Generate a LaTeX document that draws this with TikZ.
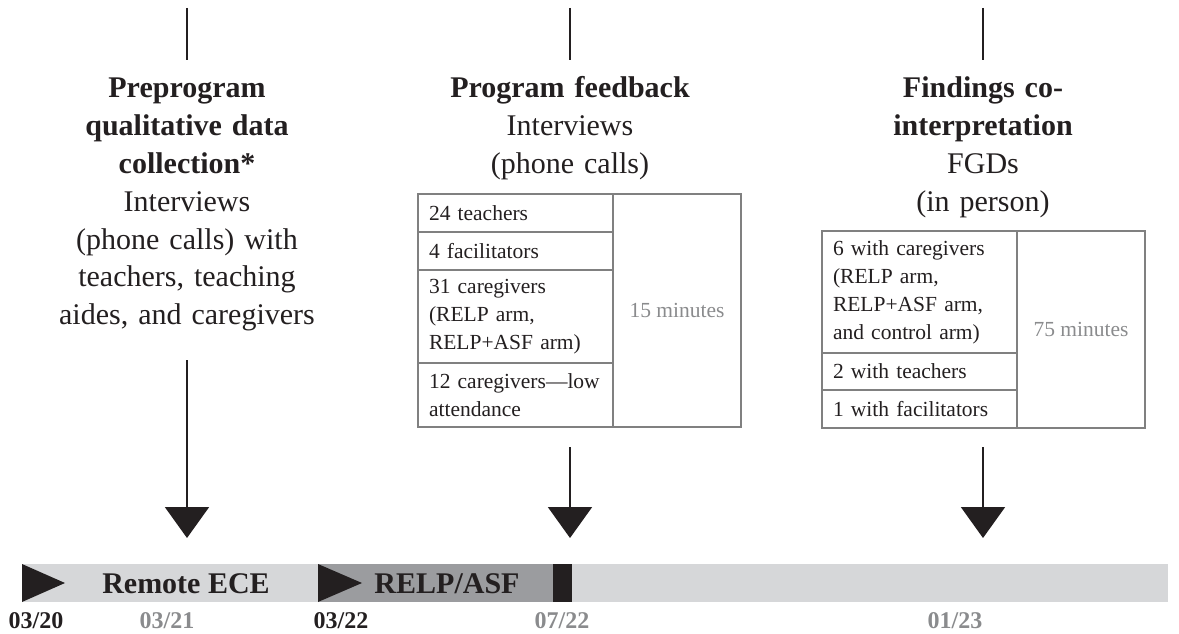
\documentclass[tikz,border=0pt]{standalone}
\usepackage{fontspec}
\setmainfont{Liberation Serif}
\usetikzlibrary{arrows.meta,positioning}
\definecolor{barlight}{HTML}{D6D7D9}
\definecolor{bardark}{HTML}{9B9C9F}
\definecolor{inkblack}{HTML}{231F20}
\definecolor{softgrey}{HTML}{8A8B8D}
\definecolor{cellline}{HTML}{808080}
\tikzset{
  headtext/.style={align=center, text width=270pt, inner sep=0pt, anchor=base,
    text=inkblack, font=\fontsize{30}{37.8}\selectfont},
  cellbox/.style={draw=cellline, line width=1.3pt, inner xsep=11pt, inner ysep=0pt,
    outer sep=0pt, text width=173pt, minimum width=195pt, align=left, anchor=north west,
    text=inkblack, font=\fontsize{21.5}{28}\selectfont},
  timebox/.style={draw=cellline, line width=1.3pt, inner sep=0pt, outer sep=0pt,
    minimum width=128pt, anchor=north west, text=softgrey, font=\fontsize{21.5}{28}\selectfont},
  downarrow/.style={line width=2pt, draw=inkblack, -{Triangle[width=44pt,length=31pt]}},
  tickline/.style={line width=2pt, draw=inkblack},
  barlabel/.style={anchor=base, inner sep=0pt, text=inkblack, font=\fontsize{30}{32}\selectfont\bfseries},
  datelabel/.style={anchor=base, inner sep=0pt, font=\fontsize{24}{28}\selectfont\bfseries},
}
\begin{document}
\begin{tikzpicture}[x=1pt,y=-1pt]
\useasboundingbox (0,0) rectangle (1179,634);
% ticks on top
\draw[tickline] (187,8) -- (187,60);
\draw[tickline] (570,8) -- (570,60);
\draw[tickline] (983,8) -- (983,60);

% column heads
\node[headtext] (prehead) at (187,98) {\textbf{Preprogram}\\\textbf{qualitative data}\\\textbf{collection*}\\Interviews\\(phone calls) with\\teachers, teaching\\aides, and caregivers};
\node[headtext] (fbhead) at (570,98) {\textbf{Program feedback}\\Interviews\\(phone calls)};
\node[headtext] (cohead) at (983,98) {\textbf{Findings co-}\\\textbf{interpretation}\\FGDs\\(in person)};

% feedback table
\node[cellbox, minimum height=38pt] (fbteach) at (418,194) {24 teachers};
\node[cellbox, minimum height=38pt, below=0pt of fbteach] (fbfacil) {4 facilitators};
\node[cellbox, minimum height=93pt, below=0pt of fbfacil] (fbcare) {31 caregivers\\(RELP arm,\\RELP+ASF arm)};
\node[cellbox, minimum height=64pt, below=0pt of fbcare] (fblow) {12 caregivers---low\\attendance};
\node[timebox, minimum height=233pt] (fbtime) at (fbteach.north east) {15 minutes};

% co-interpretation table
\node[cellbox, minimum height=122pt] (cocare) at (822,231) {6 with caregivers\\(RELP arm,\\RELP+ASF arm,\\and control arm)};
\node[cellbox, minimum height=37pt, below=0pt of cocare] (coteach) {2 with teachers};
\node[cellbox, minimum height=38pt, below=0pt of coteach] (cofacil) {1 with facilitators};
\node[timebox, minimum height=197pt] (cotime) at (cocare.north east) {75 minutes};

% timeline bar
\fill[barlight] (22,564) rectangle (1168,602);
\fill[bardark] (318,564) rectangle (553,602);
\fill[inkblack] (553,564) rectangle (572,602);
\fill[inkblack] (22,564) -- (65,583) -- (22,602) -- cycle;
\fill[inkblack] (318,564) -- (362,583) -- (318,602) -- cycle;
\node[barlabel] (remote) at (186,593) {Remote ECE};
\node[barlabel] (relp) at (447,593) {RELP/ASF};

% arrows
\coordinate (pretip) at (187,538);
\coordinate (fbtip) at (570,538);
\coordinate (cotip) at (983,538);
\draw[downarrow] (prehead.south |- 0,360) -- (pretip);
\draw[downarrow] (fbhead.south |- 0,447) -- (fbtip);
\draw[downarrow] (cohead.south |- 0,447) -- (cotip);

% dates
\node[datelabel, text=inkblack] (d1) at (36,628) {03/20};
\node[datelabel, text=softgrey] (d2) at (167,628) {03/21};
\node[datelabel, text=inkblack] (d3) at (341,628) {03/22};
\node[datelabel, text=softgrey] (d4) at (562,628) {07/22};
\node[datelabel, text=softgrey] (d5) at (955,628) {01/23};
\end{tikzpicture}
\end{document}
